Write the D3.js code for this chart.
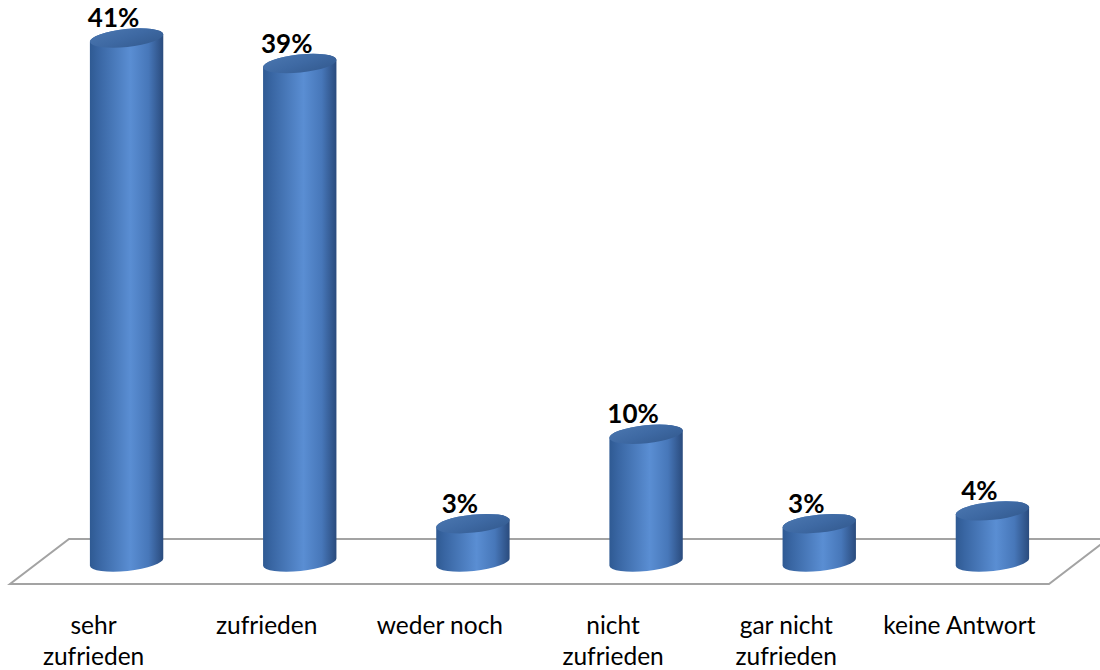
<!DOCTYPE html>
<html><head><meta charset="utf-8">
<script src="https://cdn.jsdelivr.net/npm/d3@7"></script>
<style>body{margin:0;background:#fff}svg{display:block}</style>
</head><body>
<svg id="chart" width="1100" height="670"></svg>
<script>
// ---- data ----
const categories = ["sehr\nzufrieden", "zufrieden", "weder noch", "nicht\nzufrieden", "gar nicht\nzufrieden", "keine Antwort"];
const values = [41, 39, 3, 10, 3, 4];
const valueLabels = ["41%", "39%", "3%", "10%", "3%", "4%"];

// ---- layout ----
const svg = d3.select("#chart");
const x = d3.scaleBand().domain(categories).range([40, 1079]).padding(0);
const y = d3.scaleLinear().domain([0, 41]).range([562, 38]);
const depthBack = {dx: 29, dy: -23}, depthFront = {dx: -30, dy: 22};
const rx = x.step() * 0.213, ry = 9, rot = -6;
const th = rot * Math.PI / 180;
const ex = rx * Math.cos(th), ey = rx * Math.sin(th);

const defs = svg.append("defs");
const sideGrad = defs.append("linearGradient").attr("id", "side").attr("x1", 0).attr("x2", 1).attr("y1", 0).attr("y2", 0);
[[0, "#2f5a93"], [0.12, "#3966a3"], [0.55, "#5a8ed3"], [0.8, "#4777b9"], [1, "#2a4b7d"]]
  .forEach(([o, c]) => sideGrad.append("stop").attr("offset", o).attr("stop-color", c));
const topGrad = defs.append("linearGradient").attr("id", "topg").attr("x1", 0).attr("x2", 1).attr("y1", 0).attr("y2", 1);
[[0, "#4a76af"], [0.5, "#3e69a3"], [1, "#335a8f"]]
  .forEach(([o, c]) => topGrad.append("stop").attr("offset", o).attr("stop-color", c));

// ---- floor ----
const fx0 = x.range()[0], fx1 = x.range()[1], yf = y(0);
const floorPts = [
  [fx0 + depthBack.dx, yf + depthBack.dy], [fx1 + depthBack.dx, yf + depthBack.dy],
  [fx1 + depthFront.dx, yf + depthFront.dy], [fx0 + depthFront.dx, yf + depthFront.dy]
];
svg.append("path").attr("d", d3.line()(floorPts) + "Z")
  .attr("fill", "#fff").attr("stroke", "#a3a3a3").attr("stroke-width", 2);

// ---- bars ----
const data = categories.map((c, i) => ({c, v: values[i], label: valueLabels[i]}));
const g = svg.selectAll("g.bar").data(data).join("g").attr("class", "bar")
  .attr("transform", d => `translate(${x(d.c) + x.bandwidth() / 2},0)`);

g.append("path")
  .attr("d", d => {
    const yt = y(d.v), yb = y(0);
    return `M${-ex},${yt - ey} L${-ex},${yb - ey} A${rx},${ry} ${rot} 0 0 ${ex},${yb + ey} L${ex},${yt + ey} A${rx},${ry} ${rot} 0 0 ${-ex},${yt - ey} Z`;
  })
  .attr("fill", "url(#side)");

g.append("ellipse")
  .attr("cx", 0).attr("cy", d => y(d.v)).attr("rx", rx).attr("ry", ry)
  .attr("transform", d => `rotate(${rot},0,${y(d.v)})`)
  .attr("fill", "url(#topg)");

g.append("text")
  .attr("x", -13).attr("y", d => y(d.v) - ry - 2)
  .attr("text-anchor", "middle")
  .attr("font-family", "Lato, 'Open Sans', sans-serif").attr("font-weight", "bold")
  .attr("font-size", 26).attr("fill", "#000")
  .text(d => d.label);

// ---- category labels ----
const lab = svg.selectAll("text.cat").data(categories).join("text").attr("class", "cat")
  .attr("text-anchor", "middle")
  .attr("font-family", "Lato, 'Open Sans', sans-serif").attr("font-size", 24.5).attr("fill", "#000");
lab.each(function(c) {
  const t = d3.select(this);
  c.split("\n").forEach((line, i) => {
    t.append("tspan").attr("x", x(c) + x.bandwidth() / 2 - 33).attr("y", 634 + i * 31).text(line);
  });
});
</script>
</body></html>
